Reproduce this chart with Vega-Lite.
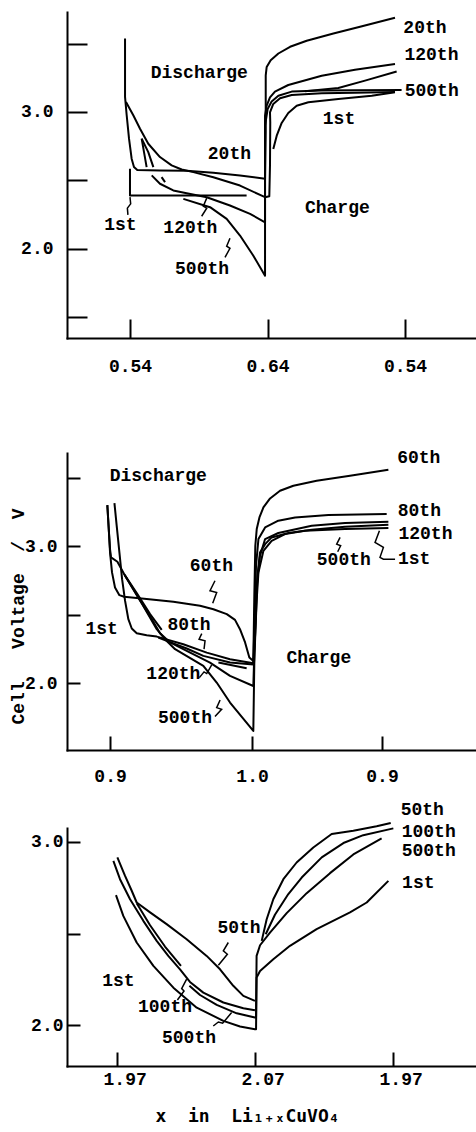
{
"$schema": "https://vega.github.io/schema/vega-lite/v6.json",
"padding": {"left": 9, "top": 12, "right": 0, "bottom": 0},
"background": "white",
"config": {
 "view": {"stroke": null},
 "axis": {"domainColor": "black", "domainWidth": 2, "domainCap": "square", "tickColor": "black", "tickWidth": 2, "labelColor": "black", "labelFont": "Liberation Mono", "labelFontSize": 18, "labelFontWeight": "bold", "grid": false, "titleColor": "black", "titleFont": "Liberation Mono", "titleFontSize": 18, "titleFontWeight": "bold", "labelFlush": false, "labelOverlap": false, "labelBound": false}
},
"datasets": {
 "c1": [
  {"c":"20th","x":-0.036,"v":3.537},{"c":"20th","x":-0.036,"v":3.110},{"c":"20th","x":-0.024,"v":2.976},{"c":"20th","x":-0.007,"v":2.805},{"c":"20th","x":0.012,"v":2.659},{"c":"20th","x":0.029,"v":2.598},{"c":"20th","x":0.053,"v":2.576},{"c":"20th","x":0.218,"v":2.573},{"c":"20th","x":0.412,"v":2.571},{"c":"20th","x":0.606,"v":2.556},{"c":"20th","x":0.800,"v":2.537},{"c":"20th","x":0.982,"v":2.512},{"c":"20th","x":0.987,"v":2.854},{"c":"20th","x":0.987,"v":3.268},{"c":"20th","x":0.994,"v":3.329},{"c":"20th","x":1.023,"v":3.378},{"c":"20th","x":1.079,"v":3.427},{"c":"20th","x":1.164,"v":3.476},{"c":"20th","x":1.285,"v":3.520},{"c":"20th","x":1.479,"v":3.573},{"c":"20th","x":1.673,"v":3.622},{"c":"20th","x":1.927,"v":3.688},
  {"c":"b","x":-0.029,"v":3.073},{"c":"b","x":0.024,"v":2.976},{"c":"b","x":0.073,"v":2.878},{"c":"b","x":0.133,"v":2.768},{"c":"b","x":0.218,"v":2.671},{"c":"b","x":0.303,"v":2.610},{"c":"b","x":0.376,"v":2.580},{"c":"b","x":0.461,"v":2.561},{"c":"b","x":0.606,"v":2.524},{"c":"b","x":0.800,"v":2.463},{"c":"b","x":0.982,"v":2.378},{"c":"b","x":1.013,"v":2.385},{"c":"b","x":1.018,"v":2.610},{"c":"b","x":1.020,"v":2.927},{"c":"b","x":1.018,"v":2.998},{"c":"b","x":1.042,"v":3.059},{"c":"b","x":1.091,"v":3.100},{"c":"b","x":1.176,"v":3.124},{"c":"b","x":1.394,"v":3.136},{"c":"b","x":1.636,"v":3.141},{"c":"b","x":1.927,"v":3.146},
  {"c":"1st","x":0,"v":2.585},{"c":"1st","x":0,"v":2.390},{"c":"1st","x":0.848,"v":2.390},
  {"c":"1stc","x":1.042,"v":2.730},{"c":"1stc","x":1.067,"v":2.827},{"c":"1stc","x":1.103,"v":2.920},{"c":"1stc","x":1.151,"v":2.993},{"c":"1stc","x":1.212,"v":3.046},{"c":"1stc","x":1.297,"v":3.071},{"c":"1stc","x":1.515,"v":3.095},{"c":"1stc","x":1.758,"v":3.119},{"c":"1stc","x":1.927,"v":3.144},
  {"c":"120th","x":0.158,"v":2.537},{"c":"120th","x":0.218,"v":2.476},{"c":"120th","x":0.315,"v":2.427},{"c":"120th","x":0.412,"v":2.407},{"c":"120th","x":0.558,"v":2.378},{"c":"120th","x":0.727,"v":2.317},{"c":"120th","x":0.873,"v":2.256},{"c":"120th","x":0.982,"v":2.195},{"c":"120th","x":0.982,"v":2.973},{"c":"120th","x":0.994,"v":3.046},{"c":"120th","x":1.018,"v":3.107},{"c":"120th","x":1.054,"v":3.149},{"c":"120th","x":1.151,"v":3.197},{"c":"120th","x":1.394,"v":3.265},{"c":"120th","x":1.636,"v":3.309},{"c":"120th","x":1.927,"v":3.350},
  {"c":"120s","x":0.085,"v":2.805},{"c":"120s","x":0.102,"v":2.707},{"c":"120s","x":0.121,"v":2.598},
  {"c":"500s","x":0.085,"v":2.805},{"c":"500s","x":0.133,"v":2.707},{"c":"500s","x":0.170,"v":2.598},
  {"c":"500d","x":0.230,"v":2.524},{"c":"500d","x":0.255,"v":2.488},
  {"c":"500th","x":0.388,"v":2.366},{"c":"500th","x":0.582,"v":2.305},{"c":"500th","x":0.703,"v":2.220},{"c":"500th","x":0.800,"v":2.098},{"c":"500th","x":0.897,"v":1.951},{"c":"500th","x":0.982,"v":1.805},{"c":"500th","x":0.982,"v":2.900},{"c":"500th","x":1.001,"v":3.022},{"c":"500th","x":1.030,"v":3.076},{"c":"500th","x":1.079,"v":3.119},{"c":"500th","x":1.176,"v":3.149},{"c":"500th","x":1.394,"v":3.156},{"c":"500th","x":1.636,"v":3.158},{"c":"500th","x":1.975,"v":3.160},
  {"c":"x1","x":1.273,"v":3.151},{"c":"x1","x":1.515,"v":3.175},{"c":"x1","x":1.709,"v":3.229},{"c":"x1","x":1.939,"v":3.295}
 ],
 "s1": [
  {"c":"a","x":0,"v":2.378},{"c":"a","x":0.005,"v":2.329},{"c":"a","x":-0.019,"v":2.298},{"c":"a","x":-0.015,"v":2.249},
  {"c":"b","x":0.558,"v":2.371},{"c":"b","x":0.533,"v":2.312},{"c":"b","x":0.558,"v":2.298},{"c":"b","x":0.521,"v":2.239},
  {"c":"c","x":0.727,"v":2.078},{"c":"c","x":0.703,"v":2.020},{"c":"c","x":0.727,"v":2.005},{"c":"c","x":0.691,"v":1.939}
 ],
 "t1": [
  {"t":"20th","x":2.145,"v":3.615},{"t":"120th","x":2.192,"v":3.415},{"t":"500th","x":2.194,"v":3.151},{"t":"1st","x":1.520,"v":2.946},{"t":"Discharge","x":0.504,"v":3.288},{"t":"Charge","x":1.508,"v":2.300},{"t":"20th","x":0.723,"v":2.690},{"t":"1st","x":-0.070,"v":2.176},{"t":"120th","x":0.439,"v":2.156},{"t":"500th","x":0.524,"v":1.854}
 ],
 "c2": [
  {"c":"60th","x":-0.019,"v":3.302},{"c":"60th","x":-0.009,"v":3.127},{"c":"60th","x":0.000,"v":2.956},{"c":"60th","x":0.014,"v":2.810},{"c":"60th","x":0.035,"v":2.700},{"c":"60th","x":0.066,"v":2.644},{"c":"60th","x":0.099,"v":2.632},{"c":"60th","x":0.258,"v":2.615},{"c":"60th","x":0.446,"v":2.595},{"c":"60th","x":0.634,"v":2.566},{"c":"60th","x":0.728,"v":2.541},{"c":"60th","x":0.822,"v":2.505},{"c":"60th","x":0.880,"v":2.463},{"c":"60th","x":0.915,"v":2.395},{"c":"60th","x":0.951,"v":2.298},{"c":"60th","x":0.981,"v":2.188},{"c":"60th","x":1.009,"v":2.163},{"c":"60th","x":1.016,"v":2.639},{"c":"60th","x":1.023,"v":3.005},{"c":"60th","x":1.033,"v":3.127},{"c":"60th","x":1.052,"v":3.212},{"c":"60th","x":1.080,"v":3.285},{"c":"60th","x":1.127,"v":3.351},{"c":"60th","x":1.197,"v":3.407},{"c":"60th","x":1.291,"v":3.444},{"c":"60th","x":1.455,"v":3.480},{"c":"60th","x":1.690,"v":3.517},{"c":"60th","x":1.960,"v":3.561},
  {"c":"1st","x":0.031,"v":3.317},{"c":"1st","x":0.047,"v":3.151},{"c":"1st","x":0.066,"v":2.956},{"c":"1st","x":0.085,"v":2.761},{"c":"1st","x":0.106,"v":2.602},{"c":"1st","x":0.129,"v":2.468},{"c":"1st","x":0.153,"v":2.400},{"c":"1st","x":0.188,"v":2.366},{"c":"1st","x":0.258,"v":2.351},{"c":"1st","x":0.329,"v":2.341},{"c":"1st","x":0.516,"v":2.285},{"c":"1st","x":0.681,"v":2.224},{"c":"1st","x":0.845,"v":2.176},{"c":"1st","x":1.009,"v":2.146},{"c":"1st","x":1.023,"v":2.371},{"c":"1st","x":1.033,"v":2.615},{"c":"1st","x":1.045,"v":2.810},{"c":"1st","x":1.080,"v":2.968},{"c":"1st","x":1.138,"v":3.041},{"c":"1st","x":1.232,"v":3.090},{"c":"1st","x":1.373,"v":3.115},{"c":"1st","x":1.655,"v":3.127},{"c":"1st","x":1.960,"v":3.134},
  {"c":"80a","x":-0.019,"v":3.302},{"c":"80a","x":-0.009,"v":3.127},{"c":"80a","x":0,"v":2.980},{"c":"80a","x":0.007,"v":2.920},{"c":"80a","x":0.052,"v":2.888},{"c":"80a","x":0.099,"v":2.798},{"c":"80a","x":0.188,"v":2.659},{"c":"80a","x":0.282,"v":2.505},{"c":"80a","x":0.364,"v":2.390},
  {"c":"80b","x":0.340,"v":2.334},{"c":"80b","x":0.399,"v":2.310},{"c":"80b","x":0.540,"v":2.254},{"c":"80b","x":0.657,"v":2.200},{"c":"80b","x":0.845,"v":2.151},{"c":"80b","x":1.009,"v":2.137},{"c":"80b","x":1.019,"v":2.517},{"c":"80b","x":1.028,"v":2.859},{"c":"80b","x":1.045,"v":3.054},{"c":"80b","x":1.092,"v":3.139},{"c":"80b","x":1.185,"v":3.188},{"c":"80b","x":1.303,"v":3.212},{"c":"80b","x":1.538,"v":3.229},{"c":"80b","x":1.948,"v":3.237},
  {"c":"120th","x":0.099,"v":2.798},{"c":"120th","x":0.211,"v":2.607},{"c":"120th","x":0.305,"v":2.449},{"c":"120th","x":0.352,"v":2.366},{"c":"120th","x":0.423,"v":2.298},{"c":"120th","x":0.540,"v":2.237},{"c":"120th","x":0.704,"v":2.151},{"c":"120th","x":0.845,"v":2.054},{"c":"120th","x":1.009,"v":1.980},{"c":"120th","x":1.021,"v":2.395},{"c":"120th","x":1.033,"v":2.712},{"c":"120th","x":1.056,"v":2.932},{"c":"120th","x":1.092,"v":3.054},{"c":"120th","x":1.185,"v":3.098},{"c":"120th","x":1.420,"v":3.151},{"c":"120th","x":1.655,"v":3.171},{"c":"120th","x":1.960,"v":3.180},
  {"c":"500th","x":0.106,"v":2.785},{"c":"500th","x":0.223,"v":2.585},{"c":"500th","x":0.329,"v":2.395},{"c":"500th","x":0.387,"v":2.322},{"c":"500th","x":0.458,"v":2.249},{"c":"500th","x":0.657,"v":2.127},{"c":"500th","x":0.751,"v":2.005},{"c":"500th","x":0.845,"v":1.859},{"c":"500th","x":1.009,"v":1.651},{"c":"500th","x":1.016,"v":2.151},{"c":"500th","x":1.028,"v":2.517},{"c":"500th","x":1.038,"v":2.785},{"c":"500th","x":1.056,"v":2.956},{"c":"500th","x":1.092,"v":3.017},{"c":"500th","x":1.138,"v":3.066},{"c":"500th","x":1.256,"v":3.098},{"c":"500th","x":1.420,"v":3.122},{"c":"500th","x":1.655,"v":3.144},{"c":"500th","x":1.960,"v":3.159},
  {"c":"short","x":0.763,"v":2.151},{"c":"short","x":0.962,"v":2.110}
 ],
 "s2": [
  {"c":"a","x":1.620,"v":3.066},{"c":"a","x":1.596,"v":3.017},{"c":"a","x":1.624,"v":3.005},{"c":"a","x":1.603,"v":2.961},
  {"c":"b","x":1.897,"v":3.115},{"c":"b","x":1.866,"v":3.029},{"c":"b","x":1.925,"v":2.993},{"c":"b","x":1.901,"v":2.920},{"c":"b","x":1.925,"v":2.907},{"c":"b","x":2.007,"v":2.907},
  {"c":"c","x":0.739,"v":2.749},{"c":"c","x":0.704,"v":2.676},{"c":"c","x":0.751,"v":2.663},{"c":"c","x":0.723,"v":2.585},
  {"c":"d","x":0.646,"v":2.363},{"c":"d","x":0.627,"v":2.322},{"c":"d","x":0.669,"v":2.310},{"c":"d","x":0.662,"v":2.249},
  {"c":"e","x":0.629,"v":2.041},{"c":"e","x":0.662,"v":2.083},{"c":"e","x":0.681,"v":2.071},{"c":"e","x":0.716,"v":2.134},
  {"c":"f","x":0.775,"v":1.878},{"c":"f","x":0.751,"v":1.822},{"c":"f","x":0.786,"v":1.810},{"c":"f","x":0.739,"v":1.756}
 ],
 "t2": [
  {"t":"60th","x":2.174,"v":3.646},{"t":"80th","x":2.178,"v":3.261},{"t":"120th","x":2.221,"v":3.090},{"t":"1st","x":2.141,"v":2.907},{"t":"500th","x":1.646,"v":2.90},{"t":"Discharge","x":0.340,"v":3.515},{"t":"Charge","x":1.470,"v":2.188},{"t":"60th","x":0.714,"v":2.854},{"t":"1st","x":-0.059,"v":2.395},{"t":"80th","x":0.556,"v":2.427},{"t":"120th","x":0.446,"v":2.071},{"t":"500th","x":0.528,"v":1.749}
 ],
 "c3": [
  {"c":"50th","x":0.005,"v":2.915},{"c":"50th","x":0.060,"v":2.815},{"c":"50th","x":0.109,"v":2.733},{"c":"50th","x":0.145,"v":2.669},{"c":"50th","x":0.242,"v":2.615},{"c":"50th","x":0.362,"v":2.551},{"c":"50th","x":0.507,"v":2.469},{"c":"50th","x":0.652,"v":2.378},{"c":"50th","x":0.749,"v":2.305},{"c":"50th","x":0.845,"v":2.215},{"c":"50th","x":0.918,"v":2.160},{"c":"50th","x":1.002,"v":2.133},
  {"c":"50c","x":1.051,"v":2.460},{"c":"50c","x":1.087,"v":2.578},{"c":"50c","x":1.135,"v":2.687},{"c":"50c","x":1.208,"v":2.796},{"c":"50c","x":1.304,"v":2.887},{"c":"50c","x":1.425,"v":2.969},{"c":"50c","x":1.558,"v":3.042},{"c":"50c","x":1.715,"v":3.060},{"c":"50c","x":1.884,"v":3.084},{"c":"50c","x":1.986,"v":3.102},
  {"c":"100th","x":-0.024,"v":2.896},{"c":"100th","x":0.024,"v":2.796},{"c":"100th","x":0.097,"v":2.687},{"c":"100th","x":0.193,"v":2.569},{"c":"100th","x":0.290,"v":2.460},{"c":"100th","x":0.374,"v":2.378},{"c":"100th","x":0.459,"v":2.305},{"c":"100th","x":0.531,"v":2.236},{"c":"100th","x":0.628,"v":2.178},{"c":"100th","x":0.773,"v":2.124},{"c":"100th","x":0.918,"v":2.093},{"c":"100th","x":1.002,"v":2.082},
  {"c":"100c","x":1.080,"v":2.496},{"c":"100c","x":1.147,"v":2.602},{"c":"100c","x":1.244,"v":2.715},{"c":"100c","x":1.341,"v":2.805},{"c":"100c","x":1.486,"v":2.915},{"c":"100c","x":1.643,"v":2.993},{"c":"100c","x":1.787,"v":3.036},{"c":"100c","x":2.005,"v":3.073},
  {"c":"500a","x":0.145,"v":2.665},{"c":"500a","x":0.242,"v":2.545},{"c":"500a","x":0.350,"v":2.429},{"c":"500a","x":0.466,"v":2.324},
  {"c":"500th","x":0.527,"v":2.215},{"c":"500th","x":0.604,"v":2.165},{"c":"500th","x":0.725,"v":2.111},{"c":"500th","x":0.870,"v":2.065},{"c":"500th","x":1.002,"v":2.042},{"c":"500th","x":1.010,"v":2.042},{"c":"500th","x":1.014,"v":2.378},{"c":"500th","x":1.039,"v":2.436},{"c":"500th","x":1.111,"v":2.505},{"c":"500th","x":1.232,"v":2.611},{"c":"500th","x":1.377,"v":2.720},{"c":"500th","x":1.546,"v":2.829},{"c":"500th","x":1.715,"v":2.931},{"c":"500th","x":1.920,"v":3.018},
  {"c":"1st","x":-0.005,"v":2.709},{"c":"1st","x":0.048,"v":2.596},{"c":"1st","x":0.145,"v":2.451},{"c":"1st","x":0.266,"v":2.324},{"c":"1st","x":0.411,"v":2.205},{"c":"1st","x":0.580,"v":2.096},{"c":"1st","x":0.773,"v":2.024},{"c":"1st","x":0.894,"v":1.993},{"c":"1st","x":1.002,"v":1.978},{"c":"1st","x":1.010,"v":1.978},{"c":"1st","x":1.014,"v":2.260},{"c":"1st","x":1.039,"v":2.296},{"c":"1st","x":1.135,"v":2.360},{"c":"1st","x":1.256,"v":2.433},{"c":"1st","x":1.449,"v":2.524},{"c":"1st","x":1.691,"v":2.615},{"c":"1st","x":1.812,"v":2.669},{"c":"1st","x":1.969,"v":2.787}
 ],
 "s3": [
  {"c":"a","x":0.809,"v":2.451},{"c":"a","x":0.773,"v":2.405},{"c":"a","x":0.802,"v":2.387},{"c":"a","x":0.737,"v":2.327},
  {"c":"b","x":0.507,"v":2.251},{"c":"b","x":0.471,"v":2.200},{"c":"b","x":0.488,"v":2.187},{"c":"b","x":0.440,"v":2.138},
  {"c":"c","x":0.700,"v":1.996},{"c":"c","x":0.737,"v":2.018},{"c":"c","x":0.768,"v":2.011},{"c":"c","x":0.833,"v":2.069}
 ],
 "t3": [
  {"t":"50th","x":2.215,"v":3.172},{"t":"100th","x":2.261,"v":3.051},{"t":"500th","x":2.261,"v":2.947},{"t":"1st","x":2.186,"v":2.775},{"t":"50th","x":0.887,"v":2.529},{"t":"1st","x":0.012,"v":2.242},{"t":"100th","x":0.350,"v":2.10},{"t":"500th","x":0.524,"v":1.933}
 ]
},
"spacing": 115,
"bounds": "flush",
"vconcat": [
 {
  "width": 409, "height": 326,
  "encoding": {
   "x": {"field": "x", "type": "quantitative", "scale": {"domain": [-0.458, 2.516], "nice": false, "zero": false},
    "axis": {"values": [0, 1, 2], "labelExpr": "datum.value == 1 ? '0.64' : '0.54'", "title": null, "tickSize": -19, "labelPadding": 38}},
   "y": {"field": "v", "type": "quantitative", "scale": {"domain": [1.35, 3.73], "nice": false, "zero": false},
    "axis": {"values": [1.5, 2, 2.5, 3, 3.5], "labelExpr": "datum.value == 2 || datum.value == 3 ? format(datum.value, '.1f') : ''", "title": null, "tickSize": -20, "labelPadding": 34}}
  },
  "layer": [
   {"data": {"name": "c1"}, "mark": {"type": "line", "color": "black", "strokeWidth": 2, "strokeJoin": "round"}, "encoding": {"detail": {"field": "c", "type": "nominal"}, "order": {"value": null}}},
   {"data": {"name": "s1"}, "mark": {"type": "line", "color": "black", "strokeWidth": 1.5}, "encoding": {"detail": {"field": "c", "type": "nominal"}, "order": {"value": null}}},
   {"data": {"name": "t1"}, "mark": {"type": "text", "font": "Liberation Mono", "fontSize": 18, "fontWeight": "bold", "color": "black", "align": "center", "baseline": "middle"}, "encoding": {"text": {"field": "t", "type": "nominal"}}}
  ]
 },
 {
  "spacing": 78,
  "bounds": "flush",
  "vconcat": [
   {
    "width": 409, "height": 297,
    "encoding": {
     "x": {"field": "x", "type": "quantitative", "scale": {"domain": [-0.303, 2.577], "nice": false, "zero": false},
      "axis": {"values": [0, 1, 1.915], "labelExpr": "datum.value == 1 ? '1.0' : '0.9'", "title": null, "tickSize": -14, "labelPadding": 31}},
     "y": {"field": "v", "type": "quantitative", "scale": {"domain": [1.512, 3.683], "nice": false, "zero": false},
      "axis": {"values": [2, 2.5, 3, 3.5], "labelExpr": "datum.value == 2 || datum.value == 3 ? format(datum.value, '.1f') : ''", "title": "Cell\u00a0\u00a0\u00a0Voltage\u00a0\u00a0/\u00a0\u00a0V", "titleX": -49, "titleY": 163, "titleAngle": -90, "titleAlign": "center", "titleBaseline": "middle", "tickSize": -13, "labelPadding": 23}}
    },
    "layer": [
     {"data": {"name": "c2"}, "mark": {"type": "line", "color": "black", "strokeWidth": 2, "strokeJoin": "round"}, "encoding": {"detail": {"field": "c", "type": "nominal"}, "order": {"value": null}}},
     {"data": {"name": "s2"}, "mark": {"type": "line", "color": "black", "strokeWidth": 1.5}, "encoding": {"detail": {"field": "c", "type": "nominal"}, "order": {"value": null}}},
     {"data": {"name": "t2"}, "mark": {"type": "text", "font": "Liberation Mono", "fontSize": 18, "fontWeight": "bold", "color": "black", "align": "center", "baseline": "middle"}, "encoding": {"text": {"field": "t", "type": "nominal"}}}
    ]
   },
   {
    "width": 409, "height": 238,
    "encoding": {
     "x": {"field": "x", "type": "quantitative", "scale": {"domain": [-0.360, 2.604], "nice": false, "zero": false},
      "axis": {"values": [0, 1, 2], "labelExpr": "datum.value == 1 ? '2.07' : '1.97'", "title": "x\u00a0\u00a0in\u00a0\u00a0Li₁₊ₓCuVO₄", "titleFont": "DejaVu Sans Mono", "titleFontSize": 18, "titleX": 180, "titleY": 55, "titleAlign": "center", "titleBaseline": "alphabetic", "tickSize": -14, "labelPadding": 18, "labelOffset": 8}},
     "y": {"field": "v", "type": "quantitative", "scale": {"domain": [1.778, 3.075], "nice": false, "zero": false},
      "axis": {"values": [2, 2.5, 3], "labelExpr": "datum.value == 2 || datum.value == 3 ? format(datum.value, '.1f') : ''", "title": null, "tickSize": -13, "labelPadding": 17}}
    },
    "layer": [
     {"data": {"name": "c3"}, "mark": {"type": "line", "color": "black", "strokeWidth": 2, "strokeJoin": "round"}, "encoding": {"detail": {"field": "c", "type": "nominal"}, "order": {"value": null}}},
     {"data": {"name": "s3"}, "mark": {"type": "line", "color": "black", "strokeWidth": 1.5}, "encoding": {"detail": {"field": "c", "type": "nominal"}, "order": {"value": null}}},
     {"data": {"name": "t3"}, "mark": {"type": "text", "font": "Liberation Mono", "fontSize": 18, "fontWeight": "bold", "color": "black", "align": "center", "baseline": "middle"}, "encoding": {"text": {"field": "t", "type": "nominal"}}}
    ]
   }
  ]
 }
]
}
